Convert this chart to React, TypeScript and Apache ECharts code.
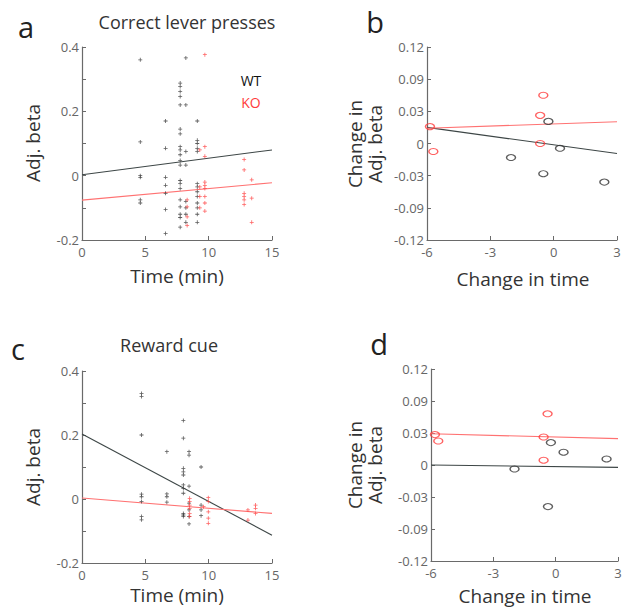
import React, { useEffect, useRef } from "react";
import * as echarts from "echarts";

// ---------- data ----------
const aYTickLabels = ["-0.2", "0", "0.2", "0.4"];
const bdYTickLabels = ["-0.12", "-0.09", "-0.03", "0", "0.03", "0.09", "0.12"];

// Panel a: Correct lever presses (Time (min), Adj. beta)
const aWT: number[][] = [
  [4.6, 0.36], [4.6, 0.105], [4.6, 0.0], [4.6, -0.005], [4.6, -0.075], [4.6, -0.085],
  [6.6, 0.17], [6.6, 0.085], [6.6, -0.005], [6.6, -0.03], [6.6, -0.055], [6.6, -0.105], [6.6, -0.18],
  [7.75, 0.288], [7.75, 0.277], [7.75, 0.262], [7.75, 0.246], [7.75, 0.22], [7.75, 0.145], [7.75, 0.13],
  [7.75, 0.09], [7.75, 0.08], [7.75, 0.065], [7.75, 0.047], [7.75, 0.033], [7.75, -0.015], [7.75, -0.025],
  [7.75, -0.04], [7.75, -0.075], [7.75, -0.097], [7.75, -0.12], [7.75, -0.13], [7.75, -0.16],
  [8.2, 0.366], [8.2, 0.22], [8.2, 0.075], [8.2, 0.033], [8.2, -0.08], [8.2, -0.1], [8.2, -0.12], [8.2, -0.145],
  [9.1, 0.17], [9.1, 0.11], [9.1, 0.1], [9.1, 0.085], [9.1, 0.075], [9.1, -0.025], [9.1, -0.035],
  [9.1, -0.05], [9.1, -0.065], [9.1, -0.085], [9.1, -0.1], [9.1, -0.12], [9.1, -0.145],
];
const aKO: number[][] = [
  [9.7, 0.376], [9.7, 0.09], [9.7, 0.06], [9.7, -0.02], [9.7, -0.03], [9.7, -0.04], [9.7, -0.065], [9.7, -0.085], [9.7, -0.11],
  [9.3, 0.08], [9.3, -0.035], [9.3, -0.065], [9.3, -0.1],
  [8.3, -0.075], [8.3, -0.097], [8.3, -0.128], [8.3, -0.155],
  [12.8, 0.05], [12.8, 0.018], [12.8, -0.055], [12.8, -0.065], [12.8, -0.075], [12.8, -0.09],
  [13.4, -0.013], [13.4, -0.07], [13.4, -0.145],
];
const aWTFit: number[][] = [[0, 0.003], [15, 0.08]];
const aKOFit: number[][] = [[0, -0.076], [15, -0.022]];

// Panel b: change in time vs change in adj. beta
const bWT: number[][] = [[-0.25, 0.0275], [-2.02, -0.0175], [-0.49, -0.0375], [0.3, -0.006], [2.4, -0.048]];
const bKO: number[][] = [[-5.86, 0.021], [-5.7, -0.01], [-0.49, 0.06], [-0.64, 0.035], [-0.64, 0.0]];
const bWTFit: number[][] = [[-6, 0.02], [3, -0.0125]];
const bKOFit: number[][] = [[-6, 0.019], [3, 0.027]];

// Panel c: Reward cue
const cWT: number[][] = [
  [4.7, 0.33], [4.7, 0.32], [4.7, 0.2], [4.7, 0.015], [4.7, 0.007], [4.7, -0.008], [4.7, -0.055], [4.7, -0.065],
  [6.7, 0.148], [6.7, 0.016], [6.7, 0.007], [6.7, -0.01],
  [8.0, 0.245], [8.0, 0.19], [8.0, 0.096], [8.0, 0.085], [8.0, 0.075], [8.0, 0.044], [8.0, 0.033], [8.0, 0.018],
  [8.0, -0.045], [8.0, -0.05], [8.0, -0.055],
  [8.45, 0.148], [8.45, 0.137], [8.45, 0.04], [8.45, -0.013], [8.45, -0.034], [8.45, -0.055], [8.45, -0.078],
  [9.4, 0.1], [9.4, -0.019], [9.4, -0.034], [9.4, -0.052],
];
const cKO: number[][] = [
  [8.5, 0.002], [8.5, -0.008], [8.5, -0.019], [8.5, -0.029], [8.5, -0.045], [8.5, -0.055],
  [9.97, 0.004], [9.97, -0.008], [9.97, -0.04], [9.97, -0.06], [9.97, -0.076],
  [9.6, -0.024],
  [13.1, -0.034], [13.1, -0.066],
  [13.7, -0.019], [13.7, -0.029], [13.7, -0.045],
];
const cWTFit: number[][] = [[0, 0.203], [15, -0.113]];
const cKOFit: number[][] = [[0, 0.003], [15, -0.045]];

// Panel d
const dWT: number[][] = [[-0.23, 0.028], [0.38, 0.016], [-1.98, -0.005], [-0.37, -0.052], [2.45, 0.0076]];
const dKO: number[][] = [[-5.81, 0.038], [-5.65, 0.03], [-0.39, 0.064], [-0.58, 0.035], [-0.58, 0.006]];
const dWTFit: number[][] = [[-6, 0.0], [3, -0.003]];
const dKOFit: number[][] = [[-6, 0.039], [3, 0.033]];

// ---------- styles ----------
const FONT = "Open Sans";
const AXIS = "#6a6a6a";
const WT_C = "#333333";
const KO_C = "#ff3b3b";
const WT_LINE = "#3d4646";
const KO_LINE = "#ff7272";
const PLUS = "path://M4,0H6V4H10V6H6V10H4V6H0V4H4Z";

function makeAxis(gridIndex: number, min: number, max: number, interval: number, formatter: any, isX: boolean) {
  return {
    type: "value",
    gridIndex,
    min,
    max,
    interval,
    axisLine: { show: true, onZero: false, lineStyle: { color: AXIS, width: 1.2 } },
    axisTick: { show: true, inside: true, length: 4, lineStyle: { color: AXIS, width: 1 } },
    axisLabel: { fontSize: 13, color: "#666", fontFamily: FONT, margin: isX ? 5 : 3, formatter, showMinLabel: true, showMaxLabel: true },
    splitLine: { show: false },
  };
}

const fmtAY = (v: number) => {
  const k = Math.round((v + 0.2) / 0.1);
  return k % 2 === 0 ? aYTickLabels[k / 2] : "";
};
const fmtBDY = (v: number) => bdYTickLabels[Math.round((v + 0.12) / 0.04)];
const fmtNum = (v: number) => String(Math.round(v));

function scatter(idx: number, data: number[][], color: string, plus: boolean) {
  return plus
    ? { type: "scatter", xAxisIndex: idx, yAxisIndex: idx, data, symbol: PLUS, symbolSize: 4, itemStyle: { color, opacity: 0.8 }, silent: true }
    : {
        type: "scatter", xAxisIndex: idx, yAxisIndex: idx, data, symbol: "circle", symbolSize: [9, 6],
        itemStyle: { color: "rgba(0,0,0,0)", borderColor: color, borderWidth: 1.2 }, silent: true,
      };
}
function fit(idx: number, data: number[][], color: string) {
  return { type: "line", xAxisIndex: idx, yAxisIndex: idx, data, showSymbol: false, symbol: "none", lineStyle: { color, width: 1.1 }, silent: true, z: 1 };
}

function txt(text: string, x: number, y: number, size: number, color = "#333", rotation = 0, extra: any = {}) {
  return {
    type: "text", x, y, rotation,
    style: { text, fontSize: size, fontFamily: FONT, fill: color, align: "center", verticalAlign: "middle", ...extra },
  };
}

export default function App() {
  const ref = useRef<HTMLDivElement>(null);
  useEffect(() => {
    if (!ref.current) return;
    const chart = echarts.init(ref.current, undefined, { renderer: "svg" });
    const option: any = {
      animation: false,
      backgroundColor: "#ffffff",
      grid: [
        { left: 82, top: 47, width: 190, height: 193, outerBoundsMode: "none" },
        { left: 427, top: 47, width: 190, height: 193, outerBoundsMode: "none" },
        { left: 82, top: 371, width: 190, height: 192, outerBoundsMode: "none" },
        { left: 431, top: 369, width: 187, height: 192, outerBoundsMode: "none" },
      ],
      xAxis: [
        makeAxis(0, 0, 15, 5, fmtNum, true),
        makeAxis(1, -6, 3, 3, fmtNum, true),
        makeAxis(2, 0, 15, 5, fmtNum, true),
        makeAxis(3, -6, 3, 3, fmtNum, true),
      ],
      yAxis: [
        makeAxis(0, -0.2, 0.4, 0.1, fmtAY, false),
        makeAxis(1, -0.12, 0.12, 0.04, fmtBDY, false),
        makeAxis(2, -0.2, 0.4, 0.1, fmtAY, false),
        makeAxis(3, -0.12, 0.12, 0.04, fmtBDY, false),
      ],
      series: [
        fit(0, aWTFit, WT_LINE), fit(0, aKOFit, KO_LINE),
        scatter(0, aWT, WT_C, true), scatter(0, aKO, KO_C, true),
        fit(1, bWTFit, WT_LINE), fit(1, bKOFit, KO_LINE),
        scatter(1, bWT, WT_C, false), scatter(1, bKO, KO_C, false),
        fit(2, cWTFit, WT_LINE), fit(2, cKOFit, KO_LINE),
        scatter(2, cWT, WT_C, true), scatter(2, cKO, KO_C, true),
        fit(3, dWTFit, WT_LINE), fit(3, dKOFit, KO_LINE),
        scatter(3, dWT, WT_C, false), scatter(3, dKO, KO_C, false),
      ],
      graphic: [
        txt("a", 26, 26, 29, "#222"),
        txt("b", 375, 21, 29, "#222"),
        txt("c", 18, 348, 29, "#222"),
        txt("d", 379, 343, 29, "#222"),
        txt("Correct lever presses", 187, 22, 18),
        txt("Reward cue", 169, 345, 18),
        txt("WT", 251, 80, 14, "#111"),
        txt("KO", 251, 102, 14, KO_C),
        txt("Adj. beta", 33, 143, 19, "#333", Math.PI / 2),
        txt("Adj. beta", 33, 467, 19, "#333", Math.PI / 2),
        txt("Change in\nAdj. beta", 365, 144, 19, "#333", Math.PI / 2, { lineHeight: 20 }),
        txt("Change in\nAdj. beta", 365, 465, 19, "#333", Math.PI / 2, { lineHeight: 20 }),
        txt("Time (min)", 177, 276, 19),
        txt("Time (min)", 177, 595, 19),
        txt("Change in time", 523, 279, 19),
        txt("Change in time", 525, 596, 19),
      ],
    };
    chart.setOption(option);
    return () => chart.dispose();
  }, []);
  return <div ref={ref} style={{ position: "absolute", left: 0, top: 0, width: 622, height: 610 }} />;
}
